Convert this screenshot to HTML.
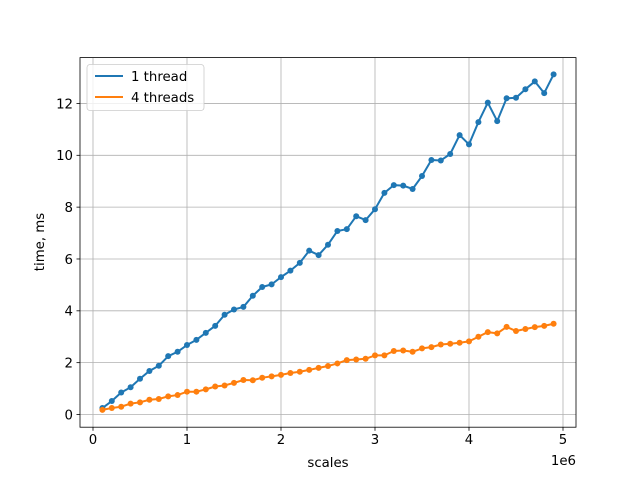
<!DOCTYPE html>
<html><head><meta charset="utf-8"><style>
body{margin:0;background:#fff}
svg text{font-family:"DejaVu Sans","Liberation Sans",sans-serif;font-size:13.3px;fill:#000}
</style></head><body>
<svg id="chart" width="640" height="480" xmlns="http://www.w3.org/2000/svg">
<rect x="0" y="0" width="640" height="480" fill="#fff"/>
<g id="grid"></g><g id="series"></g><g id="axes"></g>
</svg>
<script>
const xsM = [0.1,0.2,0.3,0.4,0.5,0.6,0.7,0.8,0.9,1.0,1.1,1.2,1.3,1.4,1.5,1.6,1.7,1.8,1.9,2.0,2.1,2.2,2.3,2.4,2.5,2.6,2.7,2.8,2.9,3.0,3.1,3.2,3.3,3.4,3.5,3.6,3.7,3.8,3.9,4.0,4.1,4.2,4.3,4.4,4.5,4.6,4.7,4.8,4.9];
const oneThread = [0.25,0.52,0.85,1.05,1.38,1.68,1.88,2.25,2.42,2.68,2.88,3.15,3.42,3.85,4.05,4.15,4.58,4.92,5.02,5.3,5.55,5.85,6.32,6.15,6.55,7.08,7.15,7.65,7.5,7.92,8.55,8.85,8.83,8.7,9.2,9.82,9.8,10.05,10.78,10.42,11.28,12.03,11.32,12.2,12.22,12.55,12.85,12.4,13.12];
const fourThreads = [0.18,0.25,0.3,0.42,0.47,0.57,0.6,0.7,0.75,0.88,0.88,0.97,1.08,1.12,1.22,1.33,1.32,1.42,1.47,1.53,1.6,1.65,1.72,1.8,1.87,1.97,2.1,2.12,2.15,2.28,2.28,2.45,2.47,2.42,2.55,2.6,2.7,2.73,2.77,2.82,3.0,3.18,3.13,3.38,3.22,3.3,3.37,3.42,3.5];
const xTicks = [0,1,2,3,4,5];
const yTicks = [0,2,4,6,8,10,12];
const NS="http://www.w3.org/2000/svg";
const L=80,R=576,T=57.6,B=427.2;
const xS=v=>93+v*94;
const yS=v=>414.5-v*25.92;
function mk(tag,attrs,parent,text){const e=document.createElementNS(NS,tag);for(const k in attrs)e.setAttribute(k,attrs[k]);if(text!==undefined)e.textContent=text;parent.appendChild(e);return e;}
const grid=document.getElementById('grid'),ser=document.getElementById('series'),ax=document.getElementById('axes');
xTicks.forEach(t=>{const x=xS(t);
 const g=mk('line',{x1:x,x2:x,y1:T,y2:B,stroke:'#b0b0b0','stroke-width':0.8},grid);
 
 
 mk('line',{x1:x,x2:x,y1:B,y2:B+3.5,stroke:'#000','stroke-width':0.8},ax);
 const tl=mk('text',{x:x,y:B+17,'text-anchor':'middle'},ax,String(t));
 
 
});
yTicks.forEach(t=>{const y=yS(t);
 const g=mk('line',{x1:L,x2:R,y1:y,y2:y,stroke:'#b0b0b0','stroke-width':0.8},grid);
 
 
 mk('line',{x1:L-3.5,x2:L,y1:y,y2:y,stroke:'#000','stroke-width':0.8},ax);
 const tl=mk('text',{x:L-7,y:y+4.8,'text-anchor':'end'},ax,String(t));
 
 
});
function drawSeries(vals,color,name){
 const pts=xsM.map((x,i)=>xS(x)+','+yS(vals[i])).join(' ');
 const pl=mk('polyline',{points:pts,fill:'none',stroke:color,'stroke-width':2,'stroke-linejoin':'round'},ser);
 
 
 xsM.forEach((x,i)=>{const c=mk('circle',{cx:xS(x),cy:yS(vals[i]),r:3,fill:color},ser);
  
  });
}
drawSeries(oneThread,'#1f77b4','one-thread');
drawSeries(fourThreads,'#ff7f0e','four-threads');
const frame=mk('rect',{x:L,y:T,width:R-L,height:B-T,fill:'none',stroke:'#000','stroke-width':0.8},ax);


const xt=mk('text',{x:328,y:467,'text-anchor':'middle'},ax,'scales');


const off=mk('text',{x:576,y:465,'text-anchor':'end'},ax,'1e6');


const yt=mk('text',{x:44,y:242,'text-anchor':'middle',transform:'rotate(-90 44 242)'},ax,'time, ms');


const lg=mk('g',{},ax);


mk('rect',{x:87,y:64.5,width:117,height:46,rx:3,fill:'#fff','fill-opacity':0.8,stroke:'#ccc','stroke-width':0.8},lg);
[['1 thread','#1f77b4'],['4 threads','#ff7f0e']].forEach((e,i)=>{const y=76+i*21;
 const g=mk('g',{},lg);
 
 
 mk('line',{x1:95,x2:123,y1:y,y2:y,stroke:e[1],'stroke-width':2},g);
 mk('text',{x:131,y:y+5},g,e[0]);
});
</script>
</body></html>
